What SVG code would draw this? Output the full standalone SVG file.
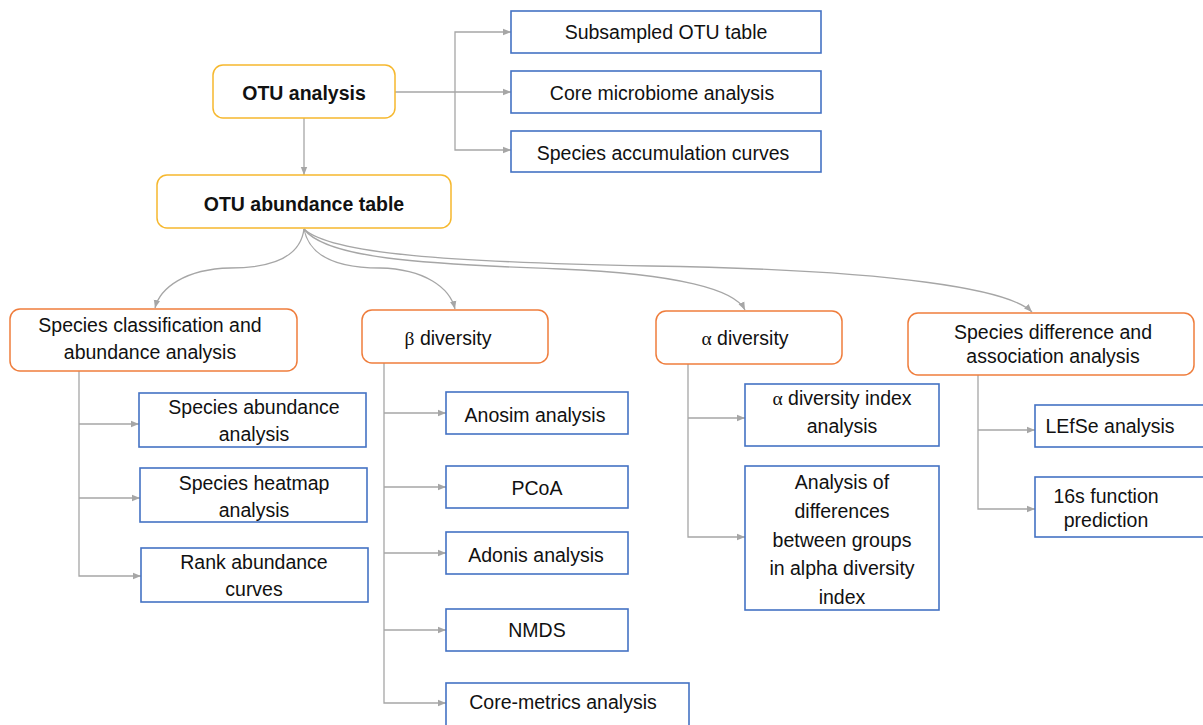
<svg xmlns="http://www.w3.org/2000/svg" width="1203" height="725" viewBox="0 0 1203 725">
<style>
text{font-family:"Liberation Sans",Arial,sans-serif;font-size:19.5px;fill:#111;text-anchor:middle}
.b{font-weight:bold}
.g{font-family:"Liberation Serif","Times New Roman",serif}
.y{fill:#fff;stroke:#f6b82e;stroke-width:1.5}
.o{fill:#fff;stroke:#ef7d3c;stroke-width:1.5}
.bl{fill:#fff;stroke:#4472c4;stroke-width:1.6}
.c{fill:none;stroke:#a6a6a6;stroke-width:1.3}
</style>
<defs>
<marker id="a" viewBox="0 0 10 10" refX="10" refY="5" markerWidth="8" markerHeight="8" markerUnits="userSpaceOnUse" orient="auto">
<path d="M0,1 L10,5 L0,9 Z" fill="#a6a6a6"/>
</marker>
</defs>
<rect width="1203" height="725" fill="#fff"/>
<g id="connectors">
<path class="c" d="M395,92 H511" marker-end="url(#a)"/>
<path class="c" d="M455,92 V32 H511" marker-end="url(#a)"/>
<path class="c" d="M455,92 V150 H511" marker-end="url(#a)"/>
<path class="c" d="M304,118 V175" marker-end="url(#a)"/>
<path class="c" d="M304,229 C300,260 265,268 230,268 C185,269 160,288 155,308" marker-end="url(#a)"/>
<path class="c" d="M304,229 C310,260 345,268 380,268 C425,269 450,288 455,309" marker-end="url(#a)"/>
<path class="c" d="M304,229 C325,258 420,264 560,269 C680,274 735,290 745,310" marker-end="url(#a)"/>
<path class="c" d="M304,229 C330,254 450,262 650,266 C900,270 1010,290 1032,312" marker-end="url(#a)"/>
<path class="c" d="M79,371 V576 H141" marker-end="url(#a)"/>
<path class="c" d="M79,424 H139" marker-end="url(#a)"/>
<path class="c" d="M79,498 H140" marker-end="url(#a)"/>
<path class="c" d="M384,363 V703 H446" marker-end="url(#a)"/>
<path class="c" d="M384,413 H446" marker-end="url(#a)"/>
<path class="c" d="M384,487 H446" marker-end="url(#a)"/>
<path class="c" d="M384,553 H446" marker-end="url(#a)"/>
<path class="c" d="M384,630 H446" marker-end="url(#a)"/>
<path class="c" d="M688,364 V537 H745" marker-end="url(#a)"/>
<path class="c" d="M688,418 H745" marker-end="url(#a)"/>
<path class="c" d="M978,375 V509 H1035" marker-end="url(#a)"/>
<path class="c" d="M978,430 H1035" marker-end="url(#a)"/>
</g>
<g id="otu-analysis"><rect class="y" x="213" y="65" width="182" height="53" rx="10"/><text class="b" x="304" y="100">OTU analysis</text></g>
<g id="subsampled"><rect class="bl" x="511" y="11" width="310" height="42"/><text x="666" y="39">Subsampled OTU table</text></g>
<g id="core-microbiome"><rect class="bl" x="511" y="71" width="310" height="42"/><text x="662" y="100">Core microbiome analysis</text></g>
<g id="accumulation"><rect class="bl" x="511" y="131" width="310" height="41"/><text x="663" y="160">Species accumulation curves</text></g>
<g id="otu-abundance"><rect class="y" x="157" y="175" width="294" height="53" rx="10"/><text class="b" x="304" y="211">OTU abundance table</text></g>
<g id="species-classification"><rect class="o" x="10" y="309" width="287" height="62" rx="10"/><text x="150" y="332">Species classification and</text><text x="150" y="359">abundance analysis</text></g>
<g id="beta"><rect class="o" x="362" y="310" width="186" height="53" rx="10"/><text x="448" y="345"><tspan class="g">β</tspan> diversity</text></g>
<g id="alpha"><rect class="o" x="656" y="311" width="186" height="53" rx="10"/><text x="745" y="345"><tspan class="g">α</tspan> diversity</text></g>
<g id="species-difference"><rect class="o" x="908" y="313" width="286" height="62" rx="10"/><text x="1053" y="339">Species difference and</text><text x="1053" y="363">association analysis</text></g>
<g id="species-abundance"><rect class="bl" x="139" y="393" width="227" height="54"/><text x="254" y="414">Species abundance</text><text x="254" y="441">analysis</text></g>
<g id="heatmap"><rect class="bl" x="140" y="468" width="227" height="54"/><text x="254" y="490">Species heatmap</text><text x="254" y="517">analysis</text></g>
<g id="rank"><rect class="bl" x="141" y="548" width="227" height="54"/><text x="254" y="569">Rank abundance</text><text x="254" y="596">curves</text></g>
<g id="anosim"><rect class="bl" x="446" y="392" width="182" height="42"/><text x="535" y="422">Anosim analysis</text></g>
<g id="pcoa"><rect class="bl" x="446" y="466" width="182" height="42"/><text x="537" y="495">PCoA</text></g>
<g id="adonis"><rect class="bl" x="446" y="532" width="182" height="42"/><text x="536" y="562">Adonis analysis</text></g>
<g id="nmds"><rect class="bl" x="446" y="609" width="182" height="42"/><text x="537" y="637">NMDS</text></g>
<g id="core-metrics"><rect class="bl" x="446" y="683" width="243" height="44"/><text x="563" y="709">Core-metrics analysis</text></g>
<g id="alpha-index"><rect class="bl" x="745" y="384" width="194" height="62"/><text x="842" y="405"><tspan class="g">α</tspan> diversity index</text><text x="842" y="433">analysis</text></g>
<g id="alpha-groups"><rect class="bl" x="745" y="466" width="194" height="144"/><text x="842" y="489">Analysis of</text><text x="842" y="518">differences</text><text x="842" y="547">between groups</text><text x="842" y="575">in alpha diversity</text><text x="842" y="604">index</text></g>
<g id="lefse"><rect class="bl" x="1035" y="405" width="172" height="42"/><text x="1110" y="433">LEfSe analysis</text></g>
<g id="function"><rect class="bl" x="1035" y="477" width="172" height="60"/><text x="1106" y="503">16s function</text><text x="1106" y="527">prediction</text></g>
</svg>
